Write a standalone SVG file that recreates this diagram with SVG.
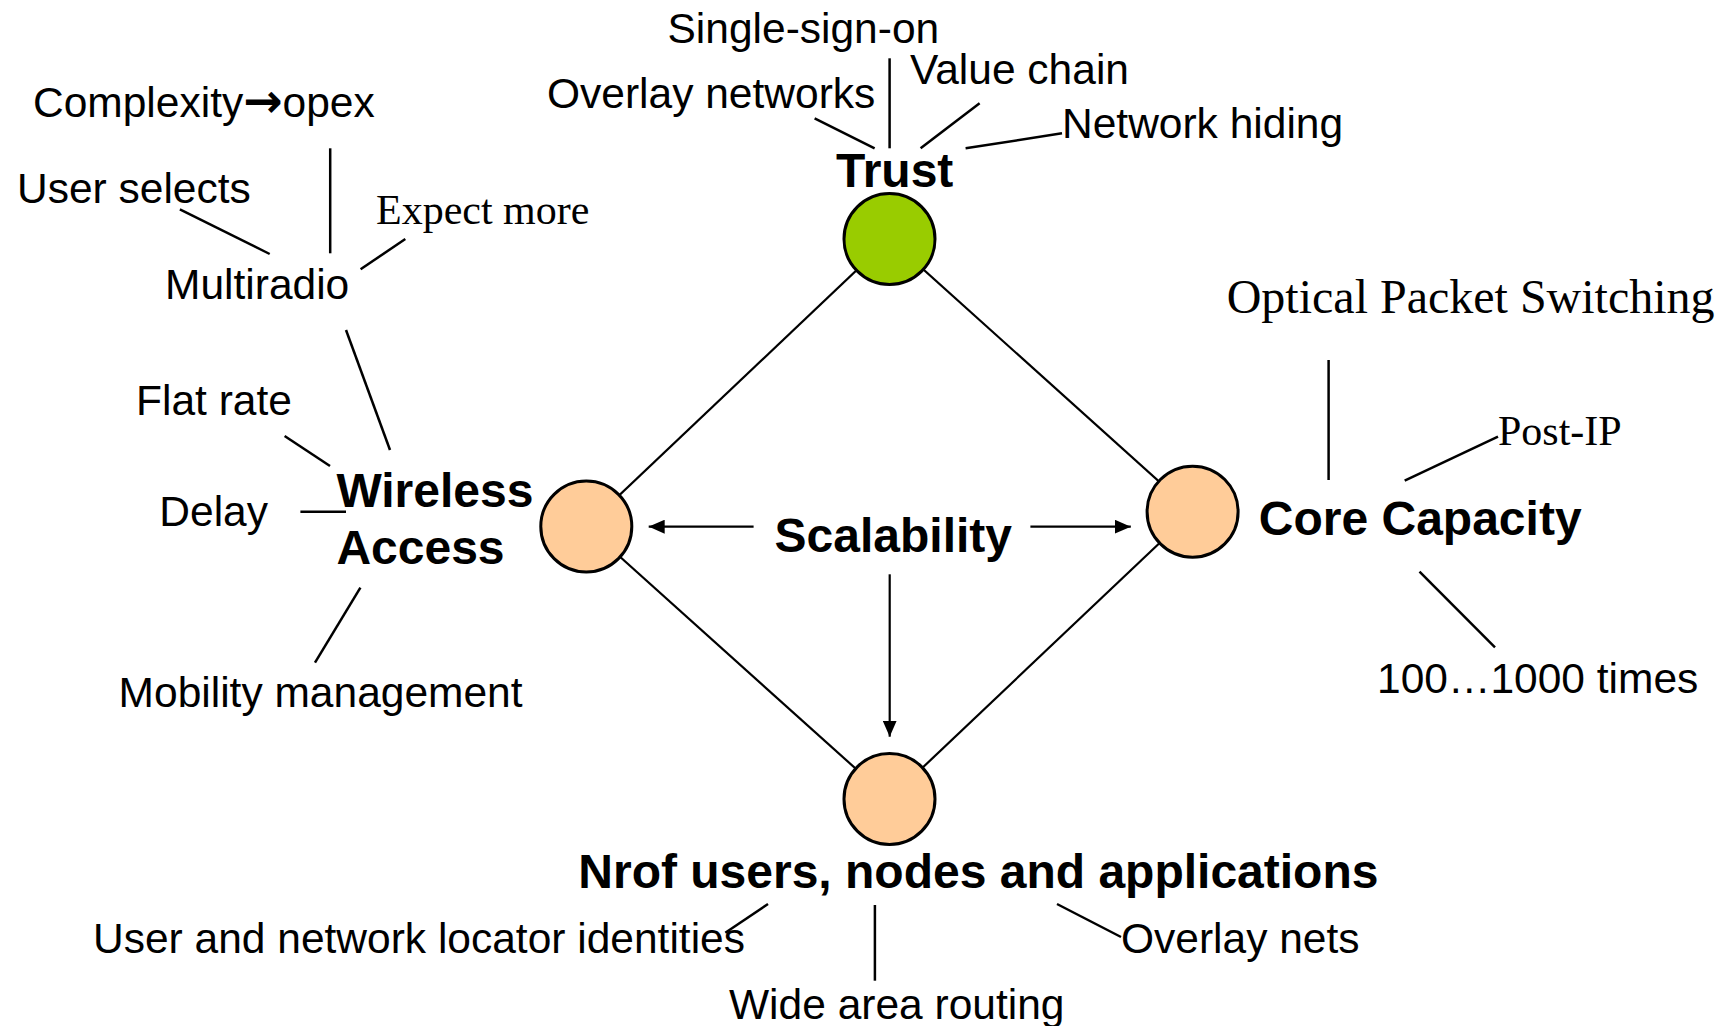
<svg xmlns="http://www.w3.org/2000/svg" width="1722" height="1026" viewBox="0 0 1722 1026">
<style>
.s{font-family:"Liberation Sans",Arial,sans-serif;font-size:42.5px;fill:#000}
.b{font-family:"Liberation Sans",Arial,sans-serif;font-size:48px;font-weight:bold;fill:#000}
.t{font-family:"Liberation Serif","Times New Roman",serif;fill:#000}
.ar{font-family:"DejaVu Sans",sans-serif;font-size:47px}
.ln{stroke:#000;stroke-width:2.5;fill:none}
.dl{stroke:#000;stroke-width:2.2;fill:none}
.nd{stroke:#000;stroke-width:3}
</style>
<defs>
<marker id="ah" viewBox="0 0 16 14" refX="16" refY="7" markerWidth="16" markerHeight="14" markerUnits="userSpaceOnUse" orient="auto">
<path d="M0,0 L16,7 L0,14 Z" fill="#000"/>
</marker>
</defs>
<rect width="1722" height="1026" fill="#fff"/>
<g id="connectors">
<line class="dl" x1="889.5" y1="239" x2="586.3" y2="526.5"/>
<line class="dl" x1="889.5" y1="239" x2="1192.6" y2="511.7"/>
<line class="dl" x1="586.3" y1="526.5" x2="889.5" y2="799"/>
<line class="dl" x1="1192.6" y1="511.7" x2="889.5" y2="799"/>
<line class="dl" x1="753.6" y1="526.7" x2="648.7" y2="526.7" marker-end="url(#ah)"/>
<line class="dl" x1="1030.4" y1="526.7" x2="1130.8" y2="526.7" marker-end="url(#ah)"/>
<line class="dl" x1="889.7" y1="574.3" x2="889.7" y2="736.7" marker-end="url(#ah)"/>
<line class="ln" x1="889.6" y1="58.3" x2="889.6" y2="148.3"/>
<line class="ln" x1="814.6" y1="118.3" x2="874.6" y2="148.3"/>
<line class="ln" x1="979.6" y1="103.3" x2="920.6" y2="148.3"/>
<line class="ln" x1="1062" y1="133.3" x2="965.6" y2="148.3"/>
<line class="ln" x1="330.2" y1="148.3" x2="330.2" y2="253.3"/>
<line class="ln" x1="179.9" y1="209.3" x2="269.7" y2="254"/>
<line class="ln" x1="405.3" y1="239" x2="360.6" y2="269.3"/>
<line class="ln" x1="346" y1="330" x2="390" y2="450"/>
<line class="ln" x1="284.6" y1="436" x2="330" y2="466"/>
<line class="ln" x1="300.4" y1="511.7" x2="346" y2="511.7"/>
<line class="ln" x1="360.4" y1="587.7" x2="315" y2="662.7"/>
<line class="ln" x1="1328.6" y1="360" x2="1328.6" y2="480"/>
<line class="ln" x1="1498" y1="436.7" x2="1404.7" y2="480.7"/>
<line class="ln" x1="1419.5" y1="571.7" x2="1495" y2="647.3"/>
<line class="ln" x1="768" y1="904" x2="725.3" y2="932.7"/>
<line class="ln" x1="874.9" y1="905" x2="874.9" y2="980.7"/>
<line class="ln" x1="1057" y1="904" x2="1121" y2="937"/>
</g>
<g id="trust">
<circle class="nd" cx="889.5" cy="239" r="45.5" fill="#99CC00"/>
<text class="b" x="836" y="187">Trust</text>
</g>
<g id="wireless-access">
<circle class="nd" cx="586.3" cy="526.5" r="45.5" fill="#FFCC99"/>
<text class="b" x="336.4" y="506.7">Wireless</text>
<text class="b" x="336.4" y="564">Access</text>
</g>
<g id="core-capacity">
<circle class="nd" cx="1192.6" cy="511.7" r="45.5" fill="#FFCC99"/>
<text class="b" x="1258.8" y="535">Core Capacity</text>
</g>
<g id="nrof">
<circle class="nd" cx="889.5" cy="799" r="45.5" fill="#FFCC99"/>
<text class="b" x="578.3" y="888">Nrof users, nodes and applications</text>
</g>
<g id="scalability">
<text class="b" x="774.6" y="551.7">Scalability</text>
</g>
<g id="trust-labels">
<text class="s" x="667.5" y="42.5">Single-sign-on</text>
<text class="s" x="547" y="108">Overlay networks</text>
<text class="s" x="910" y="83.5">Value chain</text>
<text class="s" x="1062" y="138">Network hiding</text>
</g>
<g id="wireless-labels">
<text class="s" x="33" y="117">Complexity<tspan class="ar" font-weight="bold">→</tspan>opex</text>
<text class="s" x="17" y="202.7">User selects</text>
<text class="t" x="376" y="224" font-size="42">Expect more</text>
<text class="s" x="165" y="299">Multiradio</text>
<text class="s" x="136" y="415">Flat rate</text>
<text class="s" x="159.3" y="525.7">Delay</text>
<text class="s" x="118.6" y="707">Mobility management</text>
</g>
<g id="core-labels">
<text class="t" x="1226.7" y="313.3" font-size="48">Optical Packet Switching</text>
<text class="t" x="1498" y="445" font-size="42">Post-IP</text>
<text class="s" x="1377" y="693">100…1000 times</text>
</g>
<g id="nrof-labels">
<text class="s" x="93" y="953.3">User and network locator identities</text>
<text class="s" x="1121" y="953.3">Overlay nets</text>
<text class="s" x="729" y="1019">Wide area routing</text>
</g>
</svg>
